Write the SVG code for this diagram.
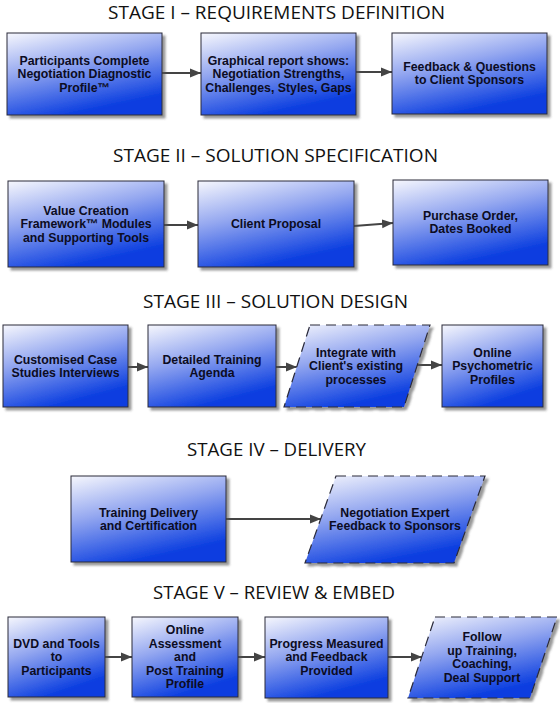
<svg xmlns="http://www.w3.org/2000/svg" width="560" height="703" viewBox="0 0 560 703">
<defs>
<linearGradient id="g" x1="0" y1="0" x2="0.4" y2="1">
<stop offset="0" stop-color="#f6f7fd"/>
<stop offset="0.45" stop-color="#95a8f0"/>
<stop offset="1" stop-color="#0b3ee0"/>
</linearGradient>
<filter id="sh" x="-10%" y="-10%" width="125%" height="125%">
<feDropShadow dx="3" dy="3" stdDeviation="1" flood-color="#555" flood-opacity="0.6"/>
</filter>
<marker id="ah" markerUnits="userSpaceOnUse" markerWidth="12" markerHeight="10" refX="11" refY="5" orient="auto">
<path d="M0,0.5 L11,5 L0,9.5 Z" fill="#444"/>
</marker>
<style>
.t{font-family:"Open Sans","DejaVu Sans",sans-serif;font-size:18.5px;fill:#111;text-anchor:middle}
.b{fill:url(#g);stroke:#2a2a3a;stroke-width:1;filter:url(#sh)}
.p{fill:url(#g);stroke:#2a2a3a;stroke-width:1.2;stroke-dasharray:10,6;filter:url(#sh)}
.l{font-family:"Liberation Sans",Arial,sans-serif;font-weight:bold;font-size:12.3px;fill:#0c0c22;text-anchor:middle}
.c{fill:none;stroke:#444;stroke-width:2;marker-end:url(#ah)}
</style>
</defs>
<rect width="560" height="703" fill="#fff"/>

<g id="titles">
<text class="t" x="276.5" y="18.5" textLength="337" lengthAdjust="spacingAndGlyphs">STAGE I – REQUIREMENTS DEFINITION</text>
<text class="t" x="275.5" y="162" textLength="325" lengthAdjust="spacingAndGlyphs">STAGE II – SOLUTION SPECIFICATION</text>
<text class="t" x="275.5" y="308" textLength="265" lengthAdjust="spacingAndGlyphs">STAGE III – SOLUTION DESIGN</text>
<text class="t" x="276.5" y="456" textLength="179" lengthAdjust="spacingAndGlyphs">STAGE IV – DELIVERY</text>
<text class="t" x="274" y="599" textLength="242" lengthAdjust="spacingAndGlyphs">STAGE V – REVIEW &amp; EMBED</text>
</g>

<g id="connectors">
<line class="c" x1="162" y1="73" x2="201" y2="73"/>
<line class="c" x1="356" y1="72" x2="392" y2="72"/>
<line class="c" x1="164" y1="225" x2="198" y2="225"/>
<line class="c" x1="354" y1="226" x2="393" y2="223"/>
<line class="c" x1="128" y1="367" x2="148" y2="367"/>
<line class="c" x1="276" y1="367" x2="297" y2="367"/>
<line class="c" x1="417" y1="365" x2="442" y2="365"/>
<line class="c" x1="226" y1="519" x2="321" y2="519"/>
<line class="c" x1="105" y1="657" x2="132" y2="657"/>
<line class="c" x1="238" y1="657" x2="265" y2="657"/>
<line class="c" x1="388" y1="657" x2="422" y2="657"/>
</g>

<g id="s1n1">
<rect class="b" x="7" y="33" width="155" height="82"/>
<text class="l" x="84.5" y="64.8"><tspan x="84.5">Participants Complete</tspan><tspan x="84.5" dy="13.5">Negotiation Diagnostic</tspan><tspan x="84.5" dy="13.5">Profile™</tspan></text>
</g>
<g id="s1n2">
<rect class="b" x="201" y="33" width="155" height="82"/>
<text class="l" x="278.5" y="64.8"><tspan x="278.5">Graphical report shows:</tspan><tspan x="278.5" dy="13.5">Negotiation Strengths,</tspan><tspan x="278.5" dy="13.5">Challenges, Styles, Gaps</tspan></text>
</g>
<g id="s1n3">
<rect class="b" x="392" y="33" width="155" height="81"/>
<text class="l" x="469.5" y="70.5"><tspan x="469.5">Feedback &amp; Questions</tspan><tspan x="469.5" dy="13.5">to Client Sponsors</tspan></text>
</g>

<g id="s2n1">
<rect class="b" x="8" y="181" width="156" height="86"/>
<text class="l" x="86" y="214.8"><tspan x="86">Value Creation</tspan><tspan x="86" dy="13.5">Framework™ Modules</tspan><tspan x="86" dy="13.5">and Supporting Tools</tspan></text>
</g>
<g id="s2n2">
<rect class="b" x="198" y="181" width="156" height="86"/>
<text class="l" x="276" y="228.3">Client Proposal</text>
</g>
<g id="s2n3">
<rect class="b" x="393" y="180" width="155" height="85"/>
<text class="l" x="470.5" y="219.5"><tspan x="470.5">Purchase Order,</tspan><tspan x="470.5" dy="13.5">Dates Booked</tspan></text>
</g>

<g id="s3n1">
<rect class="b" x="3" y="325" width="125" height="82"/>
<text class="l" x="65.5" y="363.5"><tspan x="65.5">Customised Case</tspan><tspan x="65.5" dy="13.5">Studies Interviews</tspan></text>
</g>
<g id="s3n2">
<rect class="b" x="148" y="325" width="128" height="82"/>
<text class="l" x="212" y="363.5"><tspan x="212">Detailed Training</tspan><tspan x="212" dy="13.5">Agenda</tspan></text>
</g>
<g id="s3n3">
<polygon class="p" points="310,325 430,325 404,407 284,407"/>
<text class="l" x="356" y="356.8"><tspan x="356">Integrate with</tspan><tspan x="356" dy="13.5">Client's existing</tspan><tspan x="356" dy="13.5">processes</tspan></text>
</g>
<g id="s3n4">
<rect class="b" x="442" y="325" width="101" height="82"/>
<text class="l" x="492.5" y="356.8"><tspan x="492.5">Online</tspan><tspan x="492.5" dy="13.5">Psychometric</tspan><tspan x="492.5" dy="13.5">Profiles</tspan></text>
</g>

<g id="s4n1">
<rect class="b" x="71" y="476" width="155" height="86"/>
<text class="l" x="148.5" y="516.5"><tspan x="148.5">Training Delivery</tspan><tspan x="148.5" dy="13.5">and Certification</tspan></text>
</g>
<g id="s4n2">
<polygon class="p" points="336,476 485,476 454,563 305,563"/>
<text class="l" x="395" y="516.5"><tspan x="395">Negotiation Expert</tspan><tspan x="395" dy="13.5">Feedback to Sponsors</tspan></text>
</g>

<g id="s5n1">
<rect class="b" x="8" y="617" width="97" height="80"/>
<text class="l" x="56.5" y="647.8"><tspan x="56.5">DVD and Tools</tspan><tspan x="56.5" dy="13.5">to</tspan><tspan x="56.5" dy="13.5">Participants</tspan></text>
</g>
<g id="s5n2">
<rect class="b" x="132" y="617" width="106" height="80"/>
<text class="l" x="185" y="634.3"><tspan x="185">Online</tspan><tspan x="185" dy="13.5">Assessment</tspan><tspan x="185" dy="13.5">and</tspan><tspan x="185" dy="13.5">Post Training</tspan><tspan x="185" dy="13.5">Profile</tspan></text>
</g>
<g id="s5n3">
<rect class="b" x="265" y="617" width="123" height="81"/>
<text class="l" x="326.5" y="647.8"><tspan x="326.5">Progress Measured</tspan><tspan x="326.5" dy="13.5">and Feedback</tspan><tspan x="326.5" dy="13.5">Provided</tspan></text>
</g>
<g id="s5n4">
<polygon class="p" points="435,617 557,617 530,698 408,698"/>
<text class="l" x="482" y="641"><tspan x="482">Follow</tspan><tspan x="482" dy="13.5">up Training,</tspan><tspan x="482" dy="13.5">Coaching,</tspan><tspan x="482" dy="13.5">Deal Support</tspan></text>
</g>
</svg>
